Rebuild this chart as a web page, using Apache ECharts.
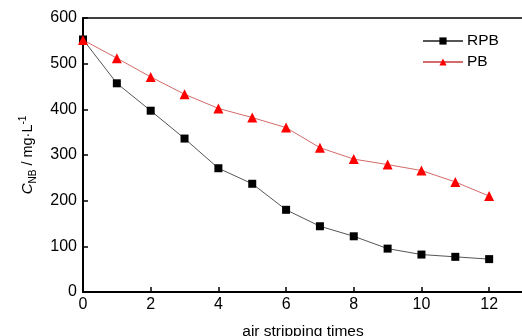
<!DOCTYPE html>
<html>
<head>
<meta charset="utf-8">
<script src="https://cdn.jsdelivr.net/npm/echarts@6/dist/echarts.min.js"></script>
<style>html,body{margin:0;padding:0;background:#fff;}#c{width:522px;height:336px;}</style>
</head>
<body>
<div id="c"></div>
<script>
var times = [0,1,2,3,4,5,6,7,8,9,10,11,12];
var rpb = [553,457,397,336,271,237,180,144,122,95,82,77,72];
var pb  = [552,512,471,433,402,382,360,316,291,279,266,241,210];
var seriesNames = ['RPB','PB'];
var FONT = '"Liberation Sans",Arial,sans-serif';

var chart = echarts.init(document.getElementById('c'), null, {renderer:'canvas'});
chart.setOption({
  animation:false,
  backgroundColor:'#fff',
  textStyle:{fontFamily:FONT},
  grid:{left:83,right:-1,top:18,bottom:44,containLabel:false,outerBoundsMode:'none'},
  legend:{
    orient:'vertical', left:417, top:28, itemWidth:40, itemHeight:9, itemGap:5,
    textStyle:{fontFamily:FONT,fontSize:15.5,color:'#000',padding:[0,0,0,-1]},
    data:seriesNames
  },
  xAxis:[{
    type:'value', min:0, max:13, interval:2,
    name:'air stripping times', nameLocation:'middle', nameGap:32,
    nameTextStyle:{fontFamily:FONT,fontSize:15.5,color:'#000'},
    axisLine:{show:true,lineStyle:{color:'#000',width:2}},
    axisTick:{show:true,inside:true,length:5,lineStyle:{color:'#000',width:1.5}},
    axisLabel:{fontFamily:FONT,fontSize:16,color:'#000',margin:5,showMaxLabel:false,
      formatter:function(v){return v>12?'':String(v);}},
    splitLine:{show:false}
  },{
    type:'value', position:'top', min:0, max:13,
    axisLine:{show:true,onZero:false,lineStyle:{color:'#000',width:1.5}},
    axisTick:{show:false}, axisLabel:{show:false}, splitLine:{show:false}
  }],
  yAxis:{
    type:'value', min:0, max:600, interval:100,
    name:'{c|C}{sub|NB}{n| / mg·L}{sup|-1}', nameLocation:'middle', nameGap:45, nameRotate:90,
    nameTextStyle:{fontFamily:FONT,fontSize:14.5,color:'#000',
      rich:{
        c:{fontFamily:FONT,fontSize:15,fontStyle:'italic',color:'#000',lineHeight:20,verticalAlign:'middle'},
        sub:{fontFamily:FONT,fontSize:10,color:'#000',lineHeight:20,verticalAlign:'bottom'},
        n:{fontFamily:FONT,fontSize:14.5,color:'#000',lineHeight:20,verticalAlign:'middle'},
        sup:{fontFamily:FONT,fontSize:10,color:'#000',lineHeight:20,verticalAlign:'top'}
      }},
    axisLine:{show:true,onZero:false,lineStyle:{color:'#000',width:2}},
    axisTick:{show:true,inside:true,length:5,lineStyle:{color:'#000',width:1.5}},
    axisLabel:{fontFamily:FONT,fontSize:16,color:'#000',margin:6},
    splitLine:{show:false}
  },
  series:[{
    name:seriesNames[0], type:'line',
    data:times.map(function(t,i){return [t,rpb[i]];}),
    symbol:'rect', symbolSize:8,
    itemStyle:{color:'#000'},
    lineStyle:{color:'#555',width:1}
  },{
    name:seriesNames[1], type:'line',
    data:times.map(function(t,i){return [t,pb[i]];}),
    symbol:'triangle', symbolSize:10,
    itemStyle:{color:'#f00'},
    lineStyle:{color:'#d46a6a',width:1}
  }]
});
</script>
</body>
</html>
